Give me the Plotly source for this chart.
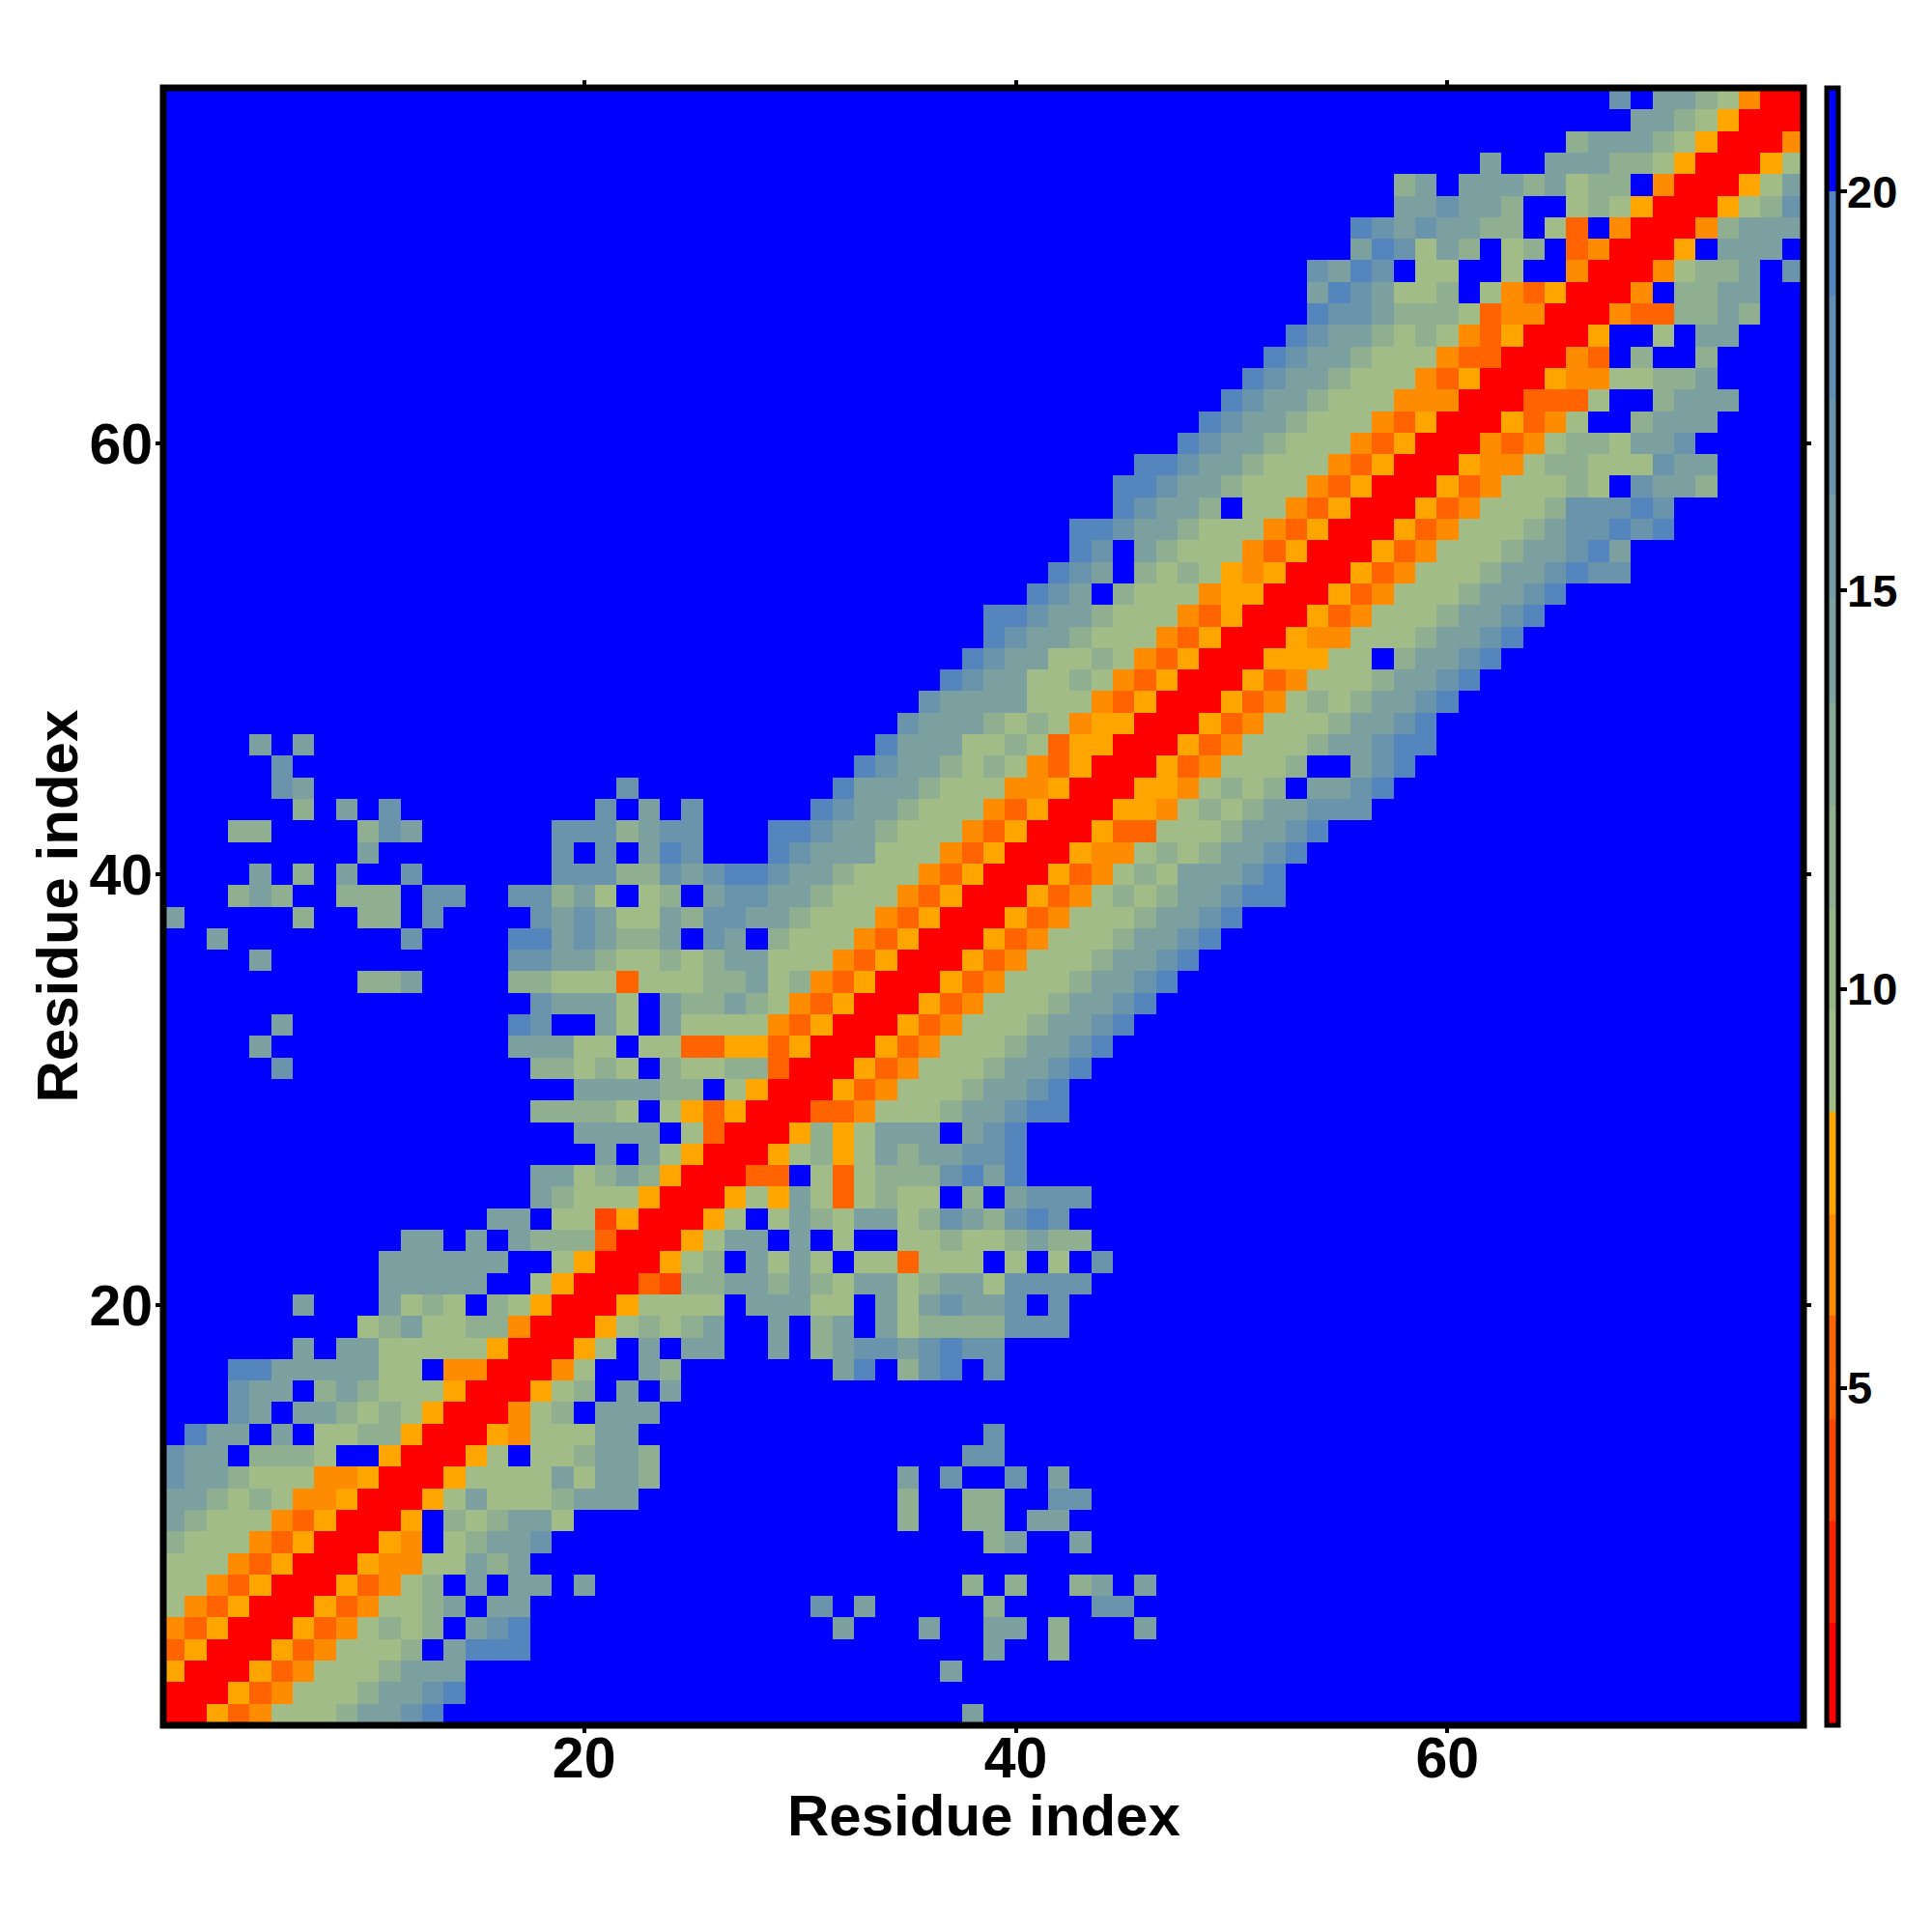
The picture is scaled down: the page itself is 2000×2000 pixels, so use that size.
import numpy as np
import plotly.graph_objects as go

N_RES = 76
TICKS = [20, 40, 60]
CBAR_TICKS = [5, 10, 15, 20]
AXIS_TITLE = "Residue index"

# distance-band edges of the colour key and the colour of each band
BAND_EDGES = [0.77, 2.05, 3.33, 4.61, 5.9, 7.18, 8.46, 9.74, 11.0, 12.3, 13.6, 14.9, 16.2, 17.4, 18.7, 20.0, 21.3]
BAND_COLORS = ["#FF0000", "#FF2300", "#FF4500", "#FF6400", "#FF8C00", "#FFA500",
               "#A1BC86", "#99B68B", "#8FAF90", "#86A996", "#7BA09F", "#739AA5",
               "#6A94AC", "#628EB3", "#5585BD", "#0000FF"]

# estimated distance read from the colour of each cell
CODE_VALUES = {"R": 1.4, "F": 3.9, "E": 5.2, "D": 6.5, "A": 7.8,
               "g": 9.1, "h": 11.6, "k": 14.2, "m": 16.8, "o": 19.3, ".": 20.6}

# row r (bottom to top): "first_column:cell codes" segments
ROWS = [
 "1:RRAEDggghkkmo 38:k",
 "1:RRRAEDggghkkmo",
 "1:ARRRAEDggghkkk 37:k",
 "1:EARRRAEDgggh.kooo 39:k 42:h",
 "1:DEARRRAEDghgh.kmo 32:k 36:k 39:kk 42:h 46:k",
 "1:gDEARRRAEDgghk.kk 31:m 33:k 39:h 44:mm",
 "1:ggDEARRRAEDgh.k.kk.k 38:h 40:h 43:hk 46:k",
 "1:gggDEARRRADDggkhk",
 "1:hgggDEARRRAD.ghkkm 39:hk 43:k",
 "1:khgggDEARRRA.hghkkg 35:h 38:hh 41:kk",
 "1:kkhghgDDARRRAgkggghkkk 35:h 38:hh 42:mm",
 "1:mkkhgggDDARRRAggggkgkk 23:h 35:k 37:m 40:m 42:k",
 "1:mkk.hhhg..ARRRAg.gghkk 23:h 38:mm",
 "1:.okk.k.gghhARRRADgggkk 39:m",
 "1:...mk.kkhghgARRRDgh.kk 23:k",
 "1:...mkk.hkhgggARRRAgh.k 24:k",
 "1:...ookkkkkgg.DDRRRDg.. 23:kh.......ko.hmo.m",
 "1:......k.kkgggggARRRAg. 23:k.kk..k.hkmmkmomm",
 "1:.........ghkgghhDRRRAg 23:hghk..k.hk.kghhhhmmm",
 "1:......k...kghg.hgARRRA 23:gggg.kkkgg.kgkmkkm.m",
 "1:..........kkkkk..gARRR 23:EFhhkkhkhgkkghkkgmmmm",
 "1:..........kkkkkk..gARR 23:RAgh.kgkg.ggEggg.g.g.m",
 "12:kk 15:k 16:.khhhERRRAgkk.k.g..gghgghkhh",
 "16:kk.ggFARRRAg.gkhgkkghmkhmom",
 "16:..khgggARRRAgAkgEghgg.h.kmmm",
 "16:..kkghkhARRREE.gEghhhmoko",
 "16:.....k.kgARRRAghAgkhkkmmo",
 "16:....kkkk.gERRRAhAgkkk.kmo",
 "16:..hhhhg.gAEARRREEDggghkkmoo",
 "16:....kkkkhh.gARRRAEDggghkkmo",
 "6:m 16:..hhghg.hgghhERRRAEDggghkkmo",
 "5:k 16:.kkkgg.ggEEAAEARRRAEDggghkkmo",
 "6:k 16:.om..kg.kggggDEARRRAEDggghkkmo",
 "16:..mkkkg.khhkhgDEARRRAEDggghkkmo",
 "10:hhk 16:.hhgggEggghhkghDEARRRAEDggghkkmo",
 "5:k 16:.mmkkhgghghkkgggDEARRRAEDggghkkmo",
 "3:k 12:m 16:.ookmkhhk.mk.hgggDEARRRAEDggghkkmo",
 "1:k 7:h 10:hh 13:m 16:..mkmkggkhmmkkhgggDEARRRAEDggghkkmo",
 "4:hkh 9:hhh 13:mm 16:.mmhkg.gh.kmmkkhgggDEARRRAEDghghkkmoo",
 "5:k 7:h 9:k 12:m 16:...mmmhhmkmoomkkhgggDEARRRAEDghgkkkmo",
 "10:k 16:...m.m.kom...omkkkgggDEARRRADDghghkkmo",
 "4:hh 10:hmk 16:...mmmhkmm...oomkkhgggDEARRRAEEggghkkmo",
 "7:h 9:k 11:m 16:.....m.k.m.....omkkhgggDEARRRAADghghkkmmm",
 "6:mk 16:......m.........okkkhgggDDARRRAADghgh.kkmo",
 "6:m 33:omkkhghgDEARRRAEDgggh..kmo",
 "5:k 7:k 34:okkkgghgEAARRRAEDggghkkmoo",
 "35:mkkkhghgDAARRRAEDggghkkmo",
 "36:mkkkkgggDEARRRAEDghghkkmo",
 "37:omkkgghgDEARRRAEDggghkkmo",
 "38:omkkgghgDEARRRAAAgg.hkkmo",
 "39:omkkhgggDEARRRADDggghkkmo",
 "39:oomkkhgggDEARRRAEDggghkkmo",
 "41:omk.hgggDAARRRAEDggghkkmo",
 "42:omk.hghgADARRRAEDggghkkmomm",
 "43:om.khgggDEARRRAEDggghkkmok",
 "43:oomkkhgggDEARRRAEDggghkmmomo",
 "45:omkkh.ggDEARRRAEDggghmmmom",
 "45:oomkkhgggDEARRRAEDggghg.mkkh",
 "46:oomkkhgggDEARRRADDghhgggmkk",
 "48:omkkhgggDEARRRDEDghhgkkm",
 "49:omkkhgggDEARRRAEDg..hkkk",
 "50:omkkhgggDDDRRREEEg..hkkk",
 "51:omkkhgggDEARRRADDgghhk",
 "52:omkkhgggDEERRRDE.h..h",
 "53:omkkhghgDEARRRA..g.kk",
 "54:ommkhhhgEDDRRRDEEhhkh",
 "54:komkggh.gDEARRRD.hhkk",
 "54:mkom.gg..g..DRRRDghhk.m",
 "56:komgkh.gh.EDRRRA.kkk.",
 "56:omkmkkhh.gE.DRRRDhkkk",
 "58:kkmkkh..ghgARRRAghm",
 "58:hk.kkkhkghh.DRRRAgk",
 "62:k..kkkhhgARRRAg",
 "66:hkkkhgARRRD",
 "69:kkhgARRR",
 "68:m.kkhgDRR",
]

residues = list(range(1, N_RES + 1))
z = np.full((N_RES, N_RES), CODE_VALUES["."])
for r, row in enumerate(ROWS):
    for seg in row.split():
        start, codes = seg.split(":")
        for i, c in enumerate(codes):
            z[r, int(start) - 1 + i] = CODE_VALUES[c]

zmin, zmax = BAND_EDGES[0], BAND_EDGES[-1]
colorscale = []
for i, col in enumerate(BAND_COLORS):
    colorscale.append([(BAND_EDGES[i] - zmin) / (zmax - zmin), col])
    colorscale.append([(BAND_EDGES[i + 1] - zmin) / (zmax - zmin), col])

FONT = "Liberation Sans"
W, H = 2000, 2000
L, R, T, B = 161, 141, 83, 222
PW, PH = W - L - R, H - T - B

fig = go.Figure(go.Heatmap(
    x=residues, y=residues, z=z, zmin=zmin, zmax=zmax, colorscale=colorscale,
    hoverinfo="skip",
    colorbar=dict(
        x=1 + 24 / PW, xanchor="left", xpad=0, ypad=0,
        y=0, yanchor="bottom", len=1, lenmode="fraction",
        thickness=12, thicknessmode="pixels",
        outlinecolor="black", outlinewidth=5, borderwidth=0,
        tickmode="array", tickvals=CBAR_TICKS, ticktext=[""] * len(CBAR_TICKS),
        ticks="outside", ticklen=7, tickwidth=4, tickcolor="black",
        tickfont=dict(family=FONT, size=4, color="black"),
    ),
))

axis_common = dict(
    range=[0.5, N_RES + 0.5], tickmode="array", tickvals=TICKS,
    ticktext=[str(t) for t in TICKS], ticks="outside", ticklen=7, tickwidth=4,
    tickcolor="black", showgrid=False, zeroline=False, showline=True, linewidth=1,
    linecolor="black", mirror="ticks", automargin=False,
    tickfont=dict(family=FONT, size=59, color="black", weight="bold"),
)
title_font = dict(family=FONT, size=60, color="black", weight="bold")
cbar_labels = [dict(xref="paper", yref="paper", x=1 + 43 / PW, xanchor="left",
                    y=(t - zmin) / (zmax - zmin), yanchor="middle", text=str(t),
                    showarrow=False,
                    font=dict(family=FONT, size=47, color="black", weight="bold"))
               for t in CBAR_TICKS]
axis_titles = [
    dict(xref="paper", yref="paper", x=0.5, xanchor="center", y=-93 / PH, yanchor="middle",
         text=AXIS_TITLE, showarrow=False, font=title_font),
    dict(xref="paper", yref="paper", x=-110 / PW, xanchor="center", y=0.5, yanchor="middle",
         text=AXIS_TITLE, textangle=-90, showarrow=False, font=title_font),
]
fig.update_layout(
    width=W, height=H, autosize=False,
    margin=dict(l=L, r=R, t=T, b=B, pad=0),
    paper_bgcolor="white", plot_bgcolor="white",
    xaxis=dict(axis_common, ticklabelstandoff=-25),
    yaxis=dict(axis_common, ticklabelstandoff=-9),
    shapes=[dict(type="rect", xref="paper", yref="paper", x0=0, x1=1, y0=0, y1=1,
                 line=dict(color="black", width=7), layer="above")],
    annotations=cbar_labels + axis_titles,
)
fig.write_html("out.html")
